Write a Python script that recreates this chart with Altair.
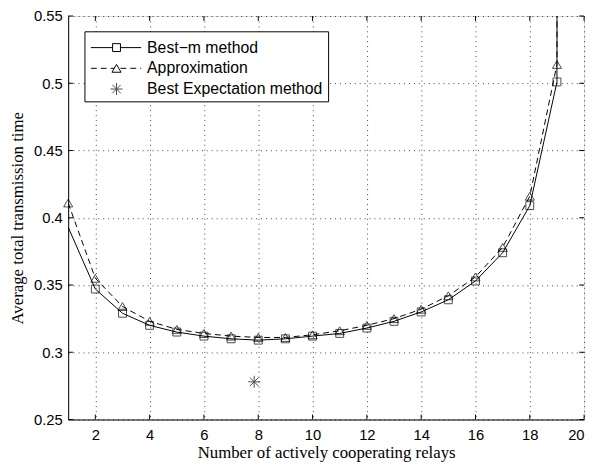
import altair as alt
import pandas as pd

# ---- data ----
relays = list(range(1, 21))
best_m = [0.393, 0.347, 0.329, 0.320, 0.315, 0.312, 0.310, 0.309, 0.310, 0.312,
          0.314, 0.318, 0.323, 0.330, 0.339, 0.353, 0.374, 0.409, 0.501, 20.0]
approx = [0.411, 0.355, 0.334, 0.323, 0.317, 0.314, 0.312, 0.311, 0.311, 0.313,
          0.316, 0.320, 0.325, 0.332, 0.342, 0.356, 0.378, 0.416, 0.514, 20.0]
best_m_marked = list(range(2, 20))
approx_marked = list(range(1, 20))
best_exp_x = [7.85]
best_exp_y = [0.278]
x_ticks = [2, 4, 6, 8, 10, 12, 14, 16, 18, 20]
y_ticks = [0.25, 0.3, 0.35, 0.4, 0.45, 0.5, 0.55]
legend_labels = ["Best\u2212m method", "Approximation", "Best Expectation method"]

W, H = 523, 409
STAR = "M0,-1L0,1M-1,0L1,0M-0.7,-0.7L0.7,0.7M-0.7,0.7L0.7,-0.7"

df_b = pd.DataFrame({"x": relays, "y": best_m})
df_a = pd.DataFrame({"x": relays, "y": approx})
df_bm = df_b[df_b.x.isin(best_m_marked)]
df_am = df_a[df_a.x.isin(approx_marked)]
df_s = pd.DataFrame({"x": best_exp_x, "y": best_exp_y})
df_xt = pd.DataFrame({"t": x_ticks})
df_yt = pd.DataFrame({"t": y_ticks})

xs = alt.Scale(domain=[1, 20], nice=False, zero=False)
ys = alt.Scale(domain=[0.25, 0.55], nice=False, zero=False)

common = dict(grid=True, gridDash=[1, 4], gridColor="black", gridOpacity=0.75,
              tickSize=0, domainColor="black",
              labelFont="Liberation Sans", labelFontSize=15, labelColor="black",
              titleFont="Liberation Serif", titleFontSize=17, titleFontWeight="normal",
              titleColor="black")
xax = alt.Axis(values=x_ticks, format="d", title="Number of actively cooperating relays",
               labelPadding=8, titlePadding=3, **common)
yax = alt.Axis(values=y_ticks, title="Average total transmission time",
               labelExpr="format(datum.value, '.2~f')",
               labelPadding=6, titlePadding=7, **common)

base_axes = alt.Chart(df_b).mark_line(opacity=0).encode(
    x=alt.X("x:Q", scale=xs, axis=xax),
    y=alt.Y("y:Q", scale=ys, axis=yax),
)

line_b = alt.Chart(df_b).mark_line(color="black", strokeWidth=1, clip=True).encode(
    x=alt.X("x:Q", scale=xs), y=alt.Y("y:Q", scale=ys))
line_a = alt.Chart(df_a).mark_line(color="black", strokeWidth=1, strokeDash=[6, 4], clip=True).encode(
    x=alt.X("x:Q", scale=xs), y=alt.Y("y:Q", scale=ys))
pts_b = alt.Chart(df_bm).mark_point(shape="square", size=64, color="black", strokeWidth=1,
                                    filled=False).encode(
    x=alt.X("x:Q", scale=xs), y=alt.Y("y:Q", scale=ys))
pts_a = alt.Chart(df_am).mark_point(shape="triangle-up", size=85, color="black", strokeWidth=1,
                                    filled=False).encode(
    x=alt.X("x:Q", scale=xs), y=alt.Y("y:Q", scale=ys))
star = alt.Chart(df_s).mark_point(shape=STAR, size=150, color="black", strokeWidth=1,
                                  filled=False).encode(
    x=alt.X("x:Q", scale=xs), y=alt.Y("y:Q", scale=ys))

# inward ticks (MATLAB style) on all four sides
tick_b = alt.Chart(df_xt).mark_rule(color="black", strokeWidth=1).encode(
    x=alt.X("t:Q", scale=xs), y=alt.value(H), y2=alt.value(H - 5))
tick_t = alt.Chart(df_xt).mark_rule(color="black", strokeWidth=1).encode(
    x=alt.X("t:Q", scale=xs), y=alt.value(0), y2=alt.value(5))
tick_l = alt.Chart(df_yt).mark_rule(color="black", strokeWidth=1).encode(
    y=alt.Y("t:Q", scale=ys), x=alt.value(0), x2=alt.value(5))
tick_r = alt.Chart(df_yt).mark_rule(color="black", strokeWidth=1).encode(
    y=alt.Y("t:Q", scale=ys), x=alt.value(W), x2=alt.value(W - 5))

# legend box
lg = pd.DataFrame({"k": [0]})
lx0, lx1, ly0, ly1 = 17, 264, 16, 87
box = alt.Chart(lg).mark_rect(fill="white", stroke="black", strokeWidth=1).encode(
    x=alt.value(lx0), x2=alt.value(lx1), y=alt.value(ly0), y2=alt.value(ly1))
rows = [32, 53, 74]
lline1 = alt.Chart(lg).mark_rule(color="black", strokeWidth=1).encode(
    x=alt.value(23), x2=alt.value(74), y=alt.value(rows[0]))
lline2 = alt.Chart(lg).mark_rule(color="black", strokeWidth=1, strokeDash=[6, 4]).encode(
    x=alt.value(23), x2=alt.value(74), y=alt.value(rows[1]))
lm1 = alt.Chart(lg).mark_point(shape="square", size=64, filled=True,
                               fill="white", stroke="black", strokeWidth=1, opacity=1).encode(
    x=alt.value(49), y=alt.value(rows[0]))
lm2 = alt.Chart(lg).mark_point(shape="triangle-up", size=85, filled=True, fill="white",
                               stroke="black", strokeWidth=1, opacity=1).encode(
    x=alt.value(49), y=alt.value(rows[1]))
lm3 = alt.Chart(lg).mark_point(shape=STAR, size=150, color="black", strokeWidth=1,
                               filled=False).encode(
    x=alt.value(49), y=alt.value(rows[2]))
ltexts = [alt.Chart(lg).mark_text(text=lab, align="left", baseline="middle",
                                  font="Liberation Sans", fontSize=16, color="black").encode(
    x=alt.value(80), y=alt.value(r)) for lab, r in zip(legend_labels, rows)]

chart = alt.layer(
    base_axes, line_b, line_a, pts_b, pts_a, star,
    tick_b, tick_t, tick_l, tick_r,
    box, lline1, lline2, lm1, lm2, lm3, *ltexts
).properties(
    width=W, height=H,
    autosize=alt.AutoSizeParams(type="none"),
    padding={"left": 61, "top": 5, "right": 8, "bottom": 44},
).configure_view(stroke="black", strokeWidth=1).configure(background="white")

chart.save("out.html", embed_options={"renderer": "svg", "actions": False})
